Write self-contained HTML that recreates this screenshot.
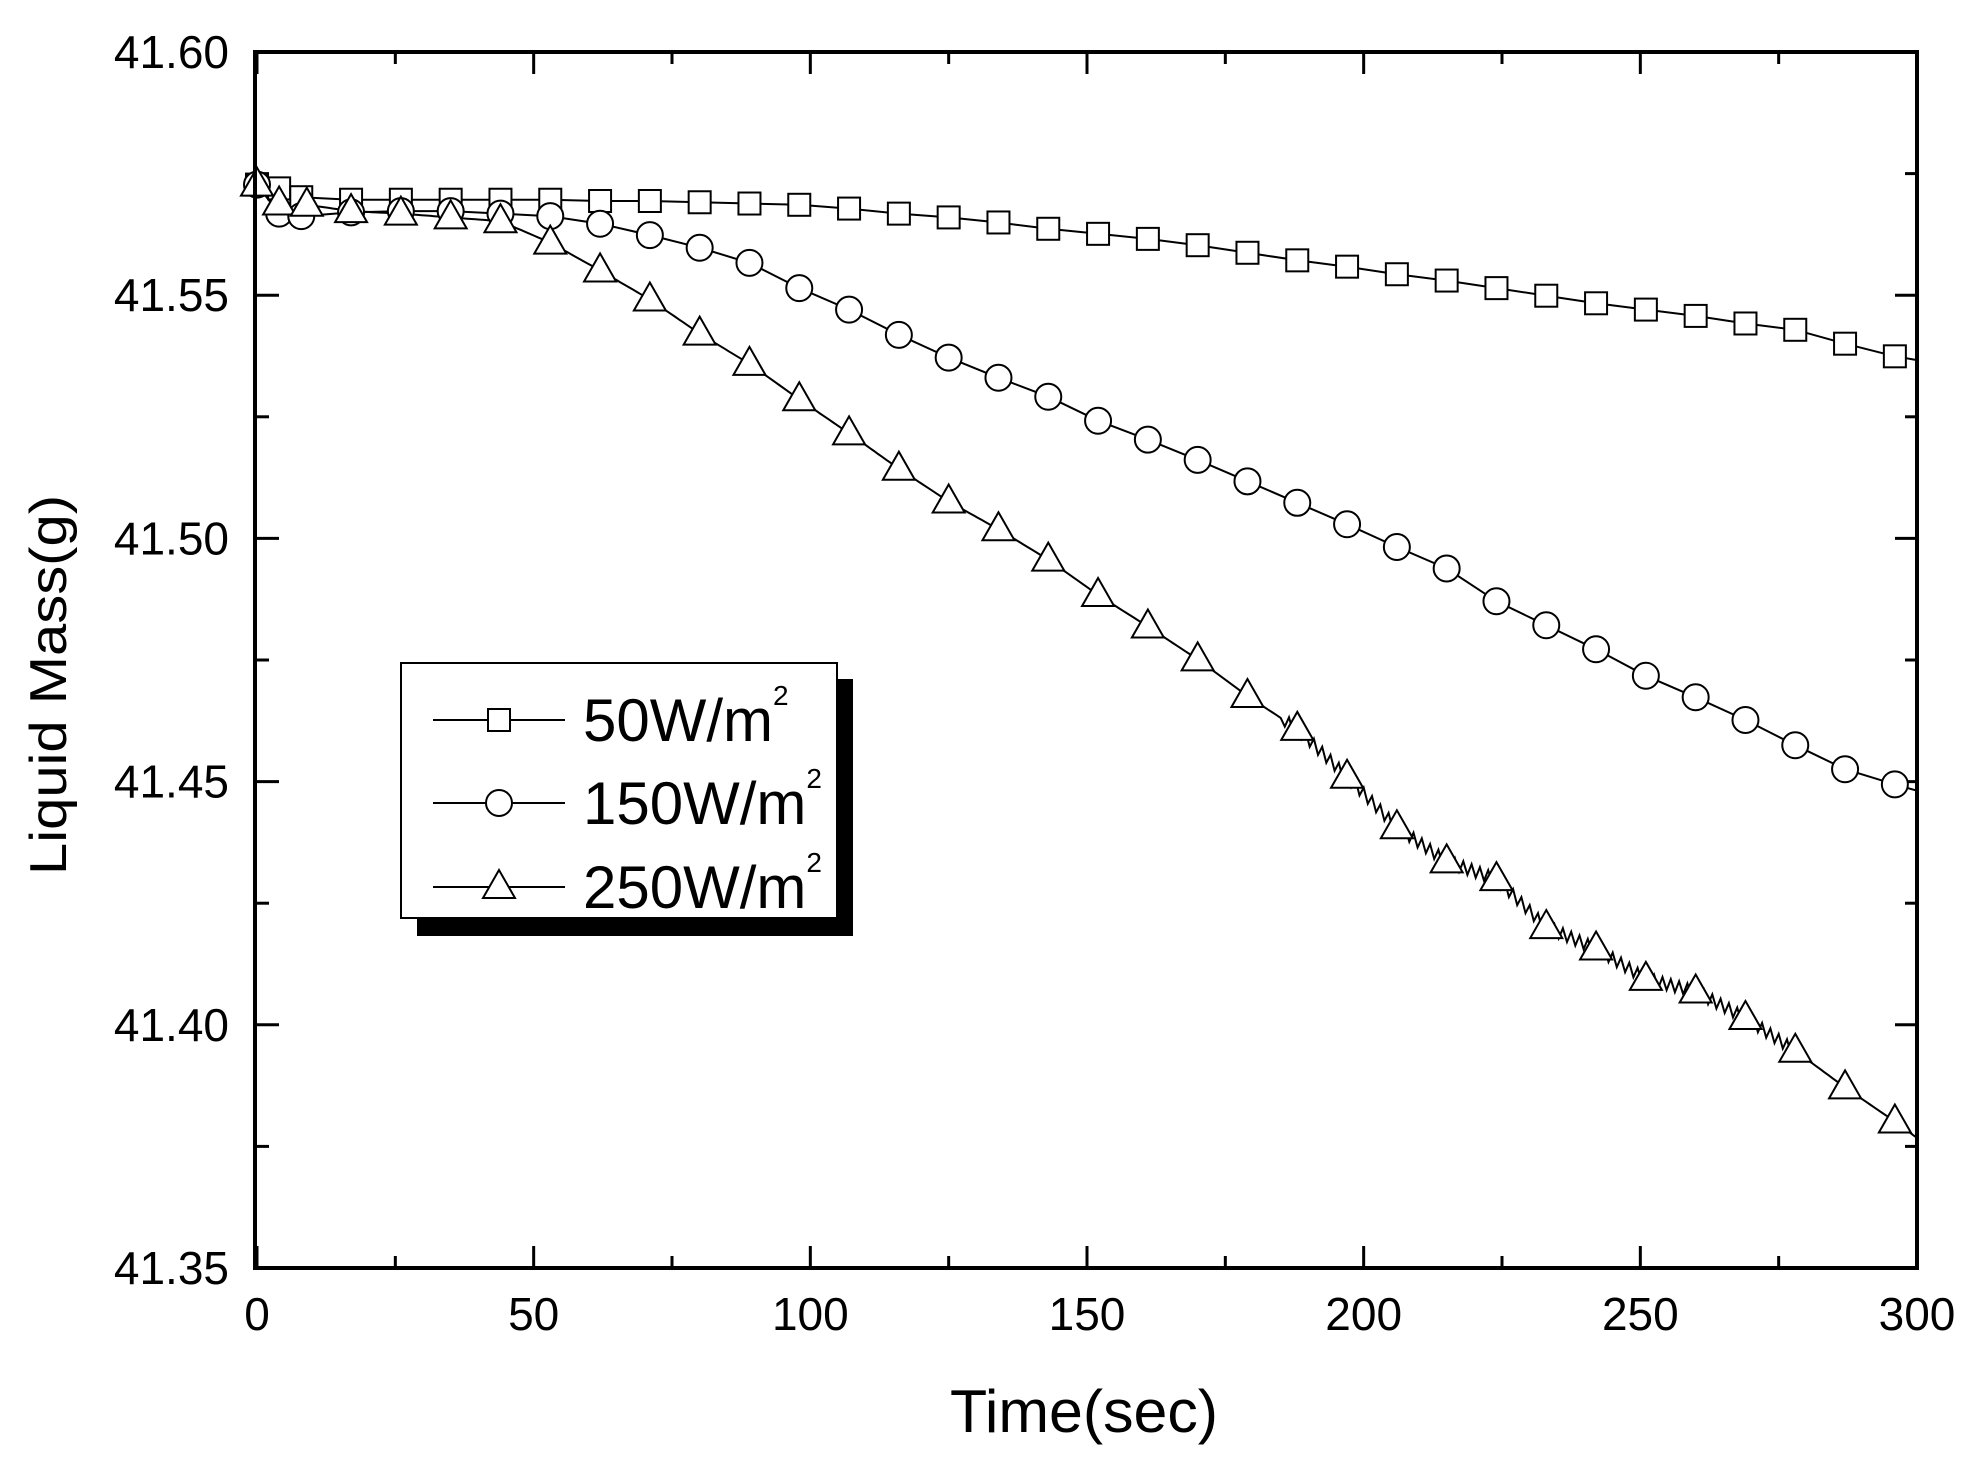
<!DOCTYPE html>
<html><head><meta charset="utf-8"><style>
html,body{margin:0;padding:0;background:#fff;}
svg{display:block;font-family:"Liberation Sans",Arial,sans-serif;}
</style></head><body>
<svg id="s" width="1976" height="1463" viewBox="0 0 1976 1463" xmlns="http://www.w3.org/2000/svg"></svg>
<script>
const L=257,R=1917,T=52,B=1268;
const sx=t=>L+t/300*(R-L);
const sy=yd=>T+(yd-42)*(B-T)/963;
const s=document.getElementById('s');
let h='';
for(let i=0;i<=12;i++){const x=L+i*(R-L)/12,len=i%2==0?22:12;
 h+=`<line x1="${x}" y1="${B}" x2="${x}" y2="${B-len}" stroke="#000" stroke-width="3"/>`;
 h+=`<line x1="${x}" y1="${T}" x2="${x}" y2="${T+len}" stroke="#000" stroke-width="3"/>`;}
for(let i=0;i<=10;i++){const y=T+i*(B-T)/10,len=i%2==0?22:12;
 h+=`<line x1="${L}" y1="${y}" x2="${L+len}" y2="${y}" stroke="#000" stroke-width="3"/>`;
 h+=`<line x1="${R}" y1="${y}" x2="${R-len}" y2="${y}" stroke="#000" stroke-width="3"/>`;}
for(let i=0;i<=6;i++){h+=`<text x="${L+i*(R-L)/6}" y="1330" font-size="46" text-anchor="middle">${i*50}</text>`;}
const yl=['41.60','41.55','41.50','41.45','41.40','41.35'];
for(let i=0;i<6;i++){h+=`<text x="229" y="${T+i*(B-T)/5+16}" font-size="46" text-anchor="end">${yl[i]}</text>`;}
h+=`<text x="950" y="1432" font-size="60" textLength="268" lengthAdjust="spacingAndGlyphs">Time(sec)</text>`;
h+=`<text transform="translate(66,685) rotate(-90)" font-size="52" text-anchor="middle" textLength="380" lengthAdjust="spacingAndGlyphs">Liquid Mass(g)</text>`;
const sq=[[0,147],[4,150],[8,157],[17,159],[26,159],[35,159],[44,159],[53,159],[62,160],[71,160],[80,161],[89,162],[98,163],[107,166],[116,170],[125,173],[134,177],[143,182],[152,186],[161,190],[170,195],[179,201],[188,207],[197,212],[206,218],[215,223],[224,229],[233,235],[242,241],[251,246],[260,251],[269,257],[278,262],[287,273],[296,283],[300,286]];
const ci=[[0,147],[4,170],[8,172],[17,169],[26,168],[35,168],[44,170],[53,172],[62,178],[71,187],[80,197],[89,209],[98,229],[107,246],[116,266],[125,284],[134,300],[143,315],[152,334],[161,349],[170,365],[179,382],[188,399],[197,416],[206,434],[215,451],[224,477],[233,496],[242,515],[251,536],[260,553],[269,571],[278,591],[287,610],[296,622],[300,627]];
const tr=[[0,147],[4,162],[9,163],[17,168],[26,170],[35,173],[44,176],[53,193],[62,215],[71,238],[80,265],[89,289],[98,317],[107,344],[116,372],[125,398],[134,420],[143,444],[152,472],[161,497],[170,523],[179,552],[188,578],[197,616],[206,656],[215,683],[224,697],[233,735],[242,752],[251,776],[260,786],[269,807],[278,833],[287,862],[296,889],[300,902]];
function line(d,wig){let p='';
 for(let i=0;i<d.length-1;i++){const[a,ya]=d[i],[b,yb]=d[i+1];const n=wig?12:1;
  for(let k=0;k<n;k++){const t=a+(b-a)*k/n,y=ya+(yb-ya)*k/n;
   let w=0; if(wig&&t>185&&t<280) w=(k%2?1:-1)*6;
   p+=(p?'L':'M')+sx(t).toFixed(1)+','+(sy(y)+w).toFixed(1);}}
 const z=d[d.length-1];p+='L'+sx(z[0])+','+sy(z[1]);
 return `<path d="${p}" fill="none" stroke="#000" stroke-width="2"/>`;}
h+=line(sq)+line(ci)+line(tr,true);
const mk=(type,x,y)=>{
 if(type==0)return `<rect x="${x-11}" y="${y-11}" width="22" height="22" fill="#fff" stroke="#000" stroke-width="2"/>`;
 if(type==1)return `<circle cx="${x}" cy="${y}" r="13" fill="#fff" stroke="#000" stroke-width="2"/>`;
 return `<polygon points="${x},${y-17} ${x-16},${y+11} ${x+16},${y+11}" fill="#fff" stroke="#000" stroke-width="2"/>`;};
[[sq,0],[ci,1],[tr,2]].forEach(([d,ty])=>{d.forEach(([t,y])=>{if(t<=296)h+=mk(ty,sx(t),sy(y));});});
h+=`<rect x="${L-2}" y="${T}" width="${R-L+2}" height="${B-T}" fill="none" stroke="#000" stroke-width="4"/>`;
h+=`<rect x="417" y="679" width="436" height="257" fill="#000"/>`;
h+=`<rect x="401" y="663" width="436" height="255" fill="#fff" stroke="#000" stroke-width="2"/>`;
const labs=['50','150','250'],ly=[720,803,887];
for(let i=0;i<3;i++){h+=`<line x1="433" y1="${ly[i]}" x2="565" y2="${ly[i]}" stroke="#000" stroke-width="2"/>`;
 h+=mk(i,499,ly[i]);
 h+=`<text x="583" y="${ly[i]+21}" font-size="60">${labs[i]}W/m<tspan font-size="28" dy="-36">2</tspan></text>`;}
s.innerHTML=h;
</script>
</body></html>
